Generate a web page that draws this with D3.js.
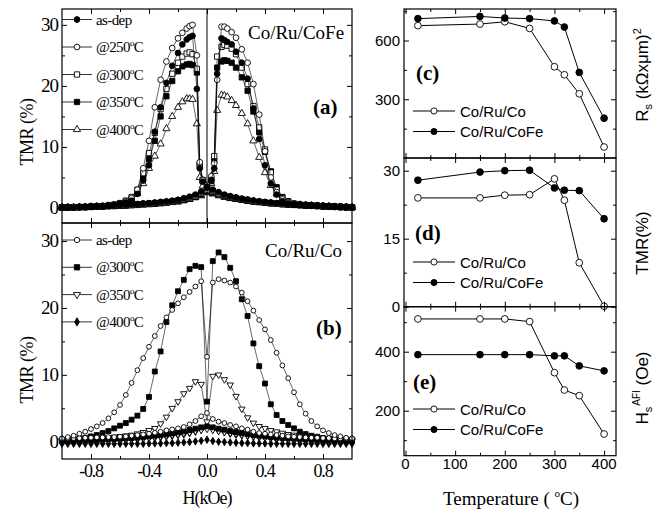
<!DOCTYPE html>
<html>
<head>
<meta charset="utf-8">
<script src="https://cdn.jsdelivr.net/npm/d3@7"></script>
<style>
  body { margin: 0; background: #fff; }
  svg { display: block; }
</style>
</head>
<body>
<svg id="fig" width="663" height="510"></svg>
<script>
// ---- field sweep grids (kOe) ----
const fieldA = [-1.00,-0.96,-0.92,-0.88,-0.84,-0.80,-0.76,-0.72,-0.68,-0.64,
  -0.60,-0.56,-0.52,-0.48,-0.44,-0.40,-0.36,-0.32,-0.28,-0.24,-0.20,
  -0.17,-0.14,-0.12,-0.10,-0.07,-0.05,-0.03,0.00,0.03,0.05,0.07,0.10,0.12,0.14,0.17,
  0.20,0.24,0.28,0.32,0.36,0.40,0.44,0.48,0.52,0.56,0.60,
  0.64,0.68,0.72,0.76,0.80,0.84,0.88,0.92,0.96,1.00];
const fieldB = [-1.00,-0.96,-0.92,-0.88,-0.84,-0.80,-0.76,-0.72,-0.68,-0.64,
  -0.60,-0.56,-0.52,-0.48,-0.44,-0.40,-0.36,-0.32,-0.28,-0.24,
  -0.20,-0.16,-0.12,-0.08,-0.04,0.00,0.04,0.08,0.12,0.16,
  0.20,0.24,0.28,0.32,0.36,0.40,0.44,0.48,0.52,0.56,
  0.60,0.64,0.68,0.72,0.76,0.80,0.84,0.88,0.92,0.96,1.00];

// ---- panel (a) Co/Ru/CoFe, high branch on fieldA ----
const hiA_asdep = [0.1,0.1,0.1,0.15,0.15,0.2,0.25,0.3,0.4,0.5,
  0.7,0.9,1.2,2.3,4.5,7.0,12.5,16.5,20.5,23.3,25.4,
  26.8,27.6,28.0,28.2,19.5,6.5,4.3,3.5,4.6,6.5,22.0,27.8,27.5,27.2,26.8,
  25.6,23.8,21.2,16.3,11.3,7.0,4.0,2.2,1.1,0.7,0.5,
  0.45,0.4,0.35,0.3,0.25,0.2,0.15,0.15,0.1,0.1];
const hiA_250 = [0.1,0.1,0.1,0.15,0.15,0.2,0.25,0.3,0.4,0.55,
  0.8,1.1,1.6,3.0,6.5,11.0,16.5,21.0,24.0,26.2,27.8,
  28.7,29.4,29.8,30.0,25.0,7.5,4.6,3.8,5.2,7.3,21.0,29.7,29.7,29.4,28.8,
  27.9,26.0,23.8,20.3,15.3,9.3,5.0,2.6,1.4,0.9,0.7,
  0.55,0.45,0.4,0.35,0.3,0.25,0.2,0.15,0.15,0.1];
const hiA_300 = [0.1,0.1,0.1,0.15,0.15,0.2,0.25,0.3,0.4,0.55,
  0.8,1.2,1.8,3.0,5.7,9.0,12.3,16.2,19.5,22.0,23.8,
  24.8,25.3,25.5,25.2,22.8,7.2,4.4,3.6,4.8,8.5,24.8,26.4,26.7,26.6,26.1,
  25.2,23.0,20.3,16.7,13.2,9.6,5.8,3.0,1.6,1.0,0.7,
  0.55,0.45,0.4,0.35,0.3,0.25,0.2,0.15,0.15,0.1];
const hiA_350 = [0.1,0.1,0.1,0.15,0.15,0.2,0.25,0.3,0.4,0.5,
  0.7,1.0,1.6,2.6,5.0,8.0,11.0,15.0,18.3,20.8,22.4,
  23.2,23.5,23.6,23.4,22.2,7.0,4.6,3.3,4.4,7.8,23.0,24.0,24.2,24.1,23.8,
  23.0,21.4,19.2,15.8,12.4,9.2,6.0,3.4,1.8,1.1,0.7,
  0.5,0.45,0.4,0.35,0.3,0.25,0.2,0.15,0.1,0.1];
const hiA_400 = [0.1,0.1,0.1,0.15,0.15,0.2,0.25,0.3,0.35,0.45,
  0.6,0.9,1.4,2.4,4.0,6.5,8.5,10.5,13.0,15.0,16.5,
  17.4,17.9,17.9,17.8,13.8,5.0,3.6,3.0,4.0,6.0,16.0,18.5,18.4,18.2,17.6,
  16.8,15.5,13.8,11.0,8.3,5.8,3.7,2.3,1.4,0.9,0.6,
  0.5,0.4,0.35,0.3,0.25,0.2,0.15,0.15,0.1,0.1];

// ---- panel (a) low branch on fieldB ----
const loA_asdep = [0.1,0.1,0.15,0.2,0.2,0.25,0.3,0.3,0.35,0.4,0.5,0.55,0.6,0.65,0.75,0.8,0.9,1.0,1.1,1.2,
  1.35,1.6,1.85,2.2,2.7,3.3,3.0,2.6,2.2,1.95,1.75,1.55,1.4,1.25,1.1,1.0,
  0.9,0.8,0.75,0.7,0.65,0.6,0.55,0.5,0.45,0.4,0.35,0.3,0.25,0.2,0.15];
const loA_250 = [0.1,0.1,0.15,0.15,0.2,0.2,0.25,0.3,0.35,0.4,0.45,0.5,0.55,0.6,0.7,0.75,0.8,0.9,1.0,1.1,
  1.25,1.45,1.7,2.0,2.5,3.0,2.8,2.4,2.1,1.85,1.65,1.45,1.3,1.15,1.05,0.95,
  0.85,0.75,0.7,0.65,0.6,0.55,0.5,0.45,0.4,0.35,0.3,0.25,0.2,0.2,0.15];
const loA_300 = [0.1,0.1,0.1,0.15,0.15,0.2,0.2,0.25,0.3,0.35,0.4,0.45,0.5,0.55,0.65,0.7,0.75,0.85,0.95,1.05,
  1.2,1.4,1.6,1.9,2.4,2.9,2.7,2.3,2.0,1.8,1.6,1.4,1.25,1.1,1.0,0.9,
  0.8,0.7,0.65,0.6,0.55,0.5,0.45,0.4,0.35,0.3,0.25,0.2,0.2,0.15,0.1];
const loA_350 = [0.05,0.1,0.1,0.1,0.15,0.15,0.2,0.25,0.3,0.3,0.35,0.4,0.45,0.5,0.6,0.65,0.7,0.8,0.9,1.0,
  1.1,1.3,1.5,1.8,2.2,2.7,2.5,2.2,1.9,1.7,1.5,1.35,1.2,1.05,0.95,0.85,
  0.75,0.7,0.6,0.55,0.5,0.45,0.4,0.35,0.3,0.25,0.2,0.2,0.15,0.1,0.1];
const loA_400 = [0.05,0.05,0.1,0.1,0.1,0.15,0.15,0.2,0.25,0.3,0.3,0.35,0.4,0.45,0.5,0.55,0.65,0.7,0.8,0.9,
  1.0,1.2,1.4,1.7,2.0,2.5,2.3,2.0,1.75,1.55,1.4,1.25,1.1,1.0,0.9,0.8,
  0.7,0.65,0.55,0.5,0.45,0.4,0.35,0.3,0.3,0.25,0.2,0.15,0.15,0.1,0.1];

// ---- panel (b) Co/Ru/Co, both branches on fieldB ----
const hiB_asdep = [0.5,0.7,0.9,1.2,1.5,1.9,2.3,2.8,3.5,4.4,5.5,7.0,8.8,10.7,12.5,14.2,15.8,17.3,18.6,19.7,
  20.7,21.6,22.4,23.2,24.0,12.7,23.8,24.3,24.1,23.8,23.2,22.3,21.0,19.6,18.2,16.8,
  15.2,13.3,11.4,9.5,7.4,5.6,4.2,3.1,2.3,1.7,1.3,1.0,0.8,0.6,0.5];
const hiB_300 = [0.2,0.3,0.4,0.5,0.6,0.8,1.0,1.3,1.6,2.0,2.4,2.8,3.3,3.9,4.9,6.7,10.5,13.5,17.9,20.4,
  22.5,24.2,25.8,26.3,26.1,6.0,27.0,28.3,27.6,26.0,24.0,21.3,18.8,14.7,11.3,8.7,
  5.6,4.0,3.1,2.5,2.0,1.5,1.15,0.9,0.75,0.55,0.45,0.35,0.3,0.25,0.2];
const hiB_350 = [0.2,0.2,0.25,0.3,0.35,0.4,0.45,0.5,0.6,0.7,0.8,0.9,1.0,1.2,1.4,1.7,2.0,2.7,3.7,5.0,
  6.0,7.2,8.0,9.0,8.6,3.0,9.8,10.0,9.3,8.5,6.8,4.9,3.6,2.8,2.3,2.0,
  1.7,1.5,1.3,1.1,1.0,0.9,0.8,0.7,0.6,0.5,0.45,0.4,0.35,0.3,0.3];
const hiB_400 = [0.0,0.0,0.05,0.05,0.1,0.1,0.15,0.15,0.2,0.25,0.3,0.35,0.4,0.45,0.5,0.55,0.6,0.7,0.8,0.9,
  1.0,1.1,1.3,1.5,1.8,2.2,1.9,1.6,1.4,1.2,1.05,0.95,0.85,0.75,0.65,0.6,
  0.5,0.45,0.4,0.35,0.3,0.25,0.2,0.2,0.15,0.1,0.1,0.05,0.05,0.0,0.0];
const loB_asdep = [0.5,0.5,0.55,0.55,0.6,0.6,0.65,0.65,0.7,0.7,0.75,0.8,0.9,1.0,1.1,1.2,1.35,1.5,1.7,1.85,
  2.0,2.2,2.6,3.1,3.8,4.3,3.4,3.0,2.8,2.5,2.3,2.0,1.8,1.5,1.3,1.2,
  1.1,1.0,0.9,0.8,0.75,0.7,0.65,0.6,0.6,0.55,0.55,0.5,0.5,0.5,0.5];
const loB_300 = [0.1,0.1,0.15,0.15,0.2,0.2,0.25,0.3,0.35,0.4,0.45,0.5,0.55,0.6,0.7,0.8,0.9,1.0,1.1,1.25,
  1.4,1.55,1.75,1.95,2.15,2.3,2.15,1.95,1.8,1.6,1.45,1.3,1.15,1.0,0.9,0.8,
  0.7,0.6,0.55,0.5,0.45,0.4,0.35,0.3,0.25,0.2,0.2,0.15,0.15,0.1,0.1];
const loB_350 = [0.1,0.1,0.1,0.15,0.15,0.2,0.2,0.25,0.25,0.3,0.35,0.4,0.45,0.5,0.55,0.6,0.7,0.8,0.9,1.0,
  1.1,1.25,1.4,1.6,1.75,1.9,1.75,1.6,1.45,1.3,1.2,1.05,0.95,0.85,0.75,0.65,
  0.6,0.5,0.45,0.4,0.35,0.3,0.3,0.25,0.2,0.2,0.15,0.15,0.1,0.1,0.1];
const loB_400 = [-0.3,-0.3,-0.3,-0.3,-0.3,-0.3,-0.3,-0.3,-0.3,-0.3,-0.3,-0.3,-0.3,-0.3,-0.3,-0.25,-0.25,-0.25,-0.2,-0.2,
  -0.15,-0.1,-0.05,0.05,0.15,0.3,0.1,0.0,-0.05,-0.1,-0.15,-0.2,-0.2,-0.25,-0.25,-0.25,
  -0.3,-0.3,-0.3,-0.3,-0.3,-0.3,-0.3,-0.3,-0.3,-0.3,-0.3,-0.3,-0.3,-0.3,-0.3];

// ---- right panels: vs annealing temperature ----
const temps = [25, 150, 200, 250, 300, 320, 350, 400];
const rsCo = [676, 684, 696, 662, 466, 425, 328, 56];
const rsCoFe = [712, 723, 715, 712, 700, 669, 437, 203];
const tmrCo = [24.0, 24.0, 24.6, 24.7, 28.2, 23.5, 9.7, 0.1];
const tmrCoFe = [27.9, 29.7, 30.0, 30.1, 26.2, 25.7, 25.6, 19.4];
const hsCo = [511, 511, 511, 502, 329, 270, 251, 121];
const hsCoFe = [390, 390, 390, 390, 386, 386, 352, 335];

// ---- ticks / labels ----
const tmrTicks = [0, 10, 20, 30];
const tmrMinor = [5, 15, 25];
const fieldTicks = [-0.8, -0.4, 0.0, 0.4, 0.8];
const fieldMinor = [-0.6, -0.2, 0.2, 0.6];
const tempTicks = [0, 100, 200, 300, 400];
const tempMinor = [50, 150, 250, 350];
const rsTicks = [300, 600];
const rsMinor = [150, 450, 750];
const tmrRTicks = [0, 15, 30];
const tmrRMinor = [7.5, 22.5];
const hsTicks = [200, 400];
const hsMinor = [100, 300, 500];
const legendA = ["as-dep", "@250", "@300", "@350", "@400"];
const legendB = ["as-dep", "@300", "@350", "@400"];
const legendR = ["Co/Ru/Co", "Co/Ru/CoFe"];

const SERIF = "'Liberation Serif','Times New Roman',serif";
const SANS = "'Liberation Sans',Arial,sans-serif";

const svg = d3.select("#fig");

const xH = d3.scaleLinear().domain([-1, 1]).range([62, 352]);
const yA = d3.scaleLinear().domain([-2.46, 32.6]).range([223, 9]);
const yB = d3.scaleLinear().domain([-2.58, 32.7]).range([459, 223]);
const xT = d3.scaleLinear().domain([-3, 424]).range([404, 616]);
const yC = d3.scaleLinear().domain([0, 761]).range([158, 9]);
const yD = d3.scaleLinear().domain([0, 32.8]).range([306.7, 158]);
const yE = d3.scaleLinear().domain([47.5, 552.5]).range([455.7, 306.7]);

function symPath(kind, size) {
  const types = {
    circle: d3.symbolCircle, square: d3.symbolSquare,
    triangle: d3.symbolTriangle, down: d3.symbolTriangle, diamond: d3.symbolDiamond
  };
  return d3.symbol().type(types[kind]).size(size)();
}

function marker(g, kind, filled, size, x, y) {
  g.append("path")
    .attr("d", symPath(kind, size))
    .attr("transform", `translate(${x},${y})` + (kind === "down" ? " rotate(180)" : ""))
    .attr("fill", filled ? "#000" : "#fff")
    .attr("stroke", "#000")
    .attr("stroke-width", 0.9);
}

function series(g, xs, ys, xs_scale, ys_scale, kind, filled, size, lw) {
  const line = d3.line()
    .x((d, i) => xs_scale(xs[i]))
    .y(d => ys_scale(d));
  g.append("path")
    .attr("d", line(ys))
    .attr("fill", "none")
    .attr("stroke", "#000")
    .attr("stroke-width", lw);
  ys.forEach((v, i) => marker(g, kind, filled, size, xs_scale(xs[i]), ys_scale(v)));
}

// inward ticks on all four sides of a box
function box(xs, ys, xMaj, xMin, yMaj, yMin) {
  const [x0, x1] = xs.range();
  const [y1, y0] = ys.range();
  const g = svg.append("g");
  const sides = [
    [d3.axisBottom, xs, xMaj, xMin, `translate(0,${y1})`],
    [d3.axisTop, xs, xMaj, xMin, `translate(0,${y0})`],
    [d3.axisLeft, ys, yMaj, yMin, `translate(${x0},0)`],
    [d3.axisRight, ys, yMaj, yMin, `translate(${x1},0)`]
  ];
  sides.forEach(([fn, sc, maj, min, tr]) => {
    [[maj, 5], [min, 3]].forEach(([vals, len]) => {
      g.append("g").attr("transform", tr)
        .call(fn(sc).tickValues(vals).tickSize(-len).tickFormat(""))
        .call(s => s.select(".domain").remove())
        .call(s => s.selectAll("line").attr("stroke-width", 1));
    });
  });
  g.append("rect")
    .attr("x", x0).attr("y", y0)
    .attr("width", x1 - x0).attr("height", y1 - y0)
    .attr("fill", "none").attr("stroke", "#000").attr("stroke-width", 1.2);
}

function text(x, y, str, font, size, anchor, weight) {
  return svg.append("text")
    .attr("x", x).attr("y", y)
    .attr("font-family", font).attr("font-size", size)
    .attr("text-anchor", anchor || "start")
    .attr("font-weight", weight || "normal")
    .attr("fill", "#000")
    .text(str);
}

function degLabel(x, y, name, size) {
  const t = svg.append("text").attr("x", x).attr("y", y)
    .attr("font-family", SERIF).attr("font-size", size)
    .attr("letter-spacing", -0.6).attr("fill", "#000");
  if (name.startsWith("@")) {
    t.append("tspan").text(name);
    t.append("tspan").attr("font-size", 9).attr("dy", -6).text("o");
    t.append("tspan").attr("dy", 6).text("C");
  } else {
    t.text(name);
  }
}

// ================= panel (a) =================
const gA = svg.append("g");
const styleA = [
  ["circle", true, 26, hiA_asdep, loA_asdep],
  ["circle", false, 26, hiA_250, loA_250],
  ["square", false, 28, hiA_300, loA_300],
  ["square", true, 28, hiA_350, loA_350],
  ["triangle", false, 22, hiA_400, loA_400]
];
styleA.slice().reverse().forEach(([k, f, s, hi, lo]) => {
  series(gA, fieldB, lo, xH, yA, k, f, s, 0.6);
  series(gA, fieldA, hi, xH, yA, k, f, s, 0.6);
});
svg.append("line")
  .attr("x1", xH(0)).attr("x2", xH(0))
  .attr("y1", yA.range()[1]).attr("y2", yA.range()[0])
  .attr("stroke", "#000").attr("stroke-width", 1);
box(xH, yA, fieldTicks, fieldMinor, tmrTicks, tmrMinor);

legendA.forEach((name, i) => {
  const y = 19.5 + i * 27.5;
  svg.append("line").attr("x1", 62).attr("x2", 92).attr("y1", y).attr("y2", y)
    .attr("stroke", "#000").attr("stroke-width", 0.8);
  marker(svg, styleA[i][0], styleA[i][1], styleA[i][2], 77, y);
  degLabel(96, y + 5, name, 15);
});

// ================= panel (b) =================
const gB = svg.append("g");
const styleB = [
  ["circle", false, 18, hiB_asdep, loB_asdep],
  ["square", true, 24, hiB_300, loB_300],
  ["down", false, 18, hiB_350, loB_350],
  ["diamond", true, 16, hiB_400, loB_400]
];
styleB.slice().reverse().forEach(([k, f, s, hi, lo]) => {
  series(gB, fieldB, lo, xH, yB, k, f, s, 0.6);
  series(gB, fieldB, hi, xH, yB, k, f, s, 0.6);
});
box(xH, yB, fieldTicks, fieldMinor, tmrTicks, tmrMinor);

legendB.forEach((name, i) => {
  const y = 240 + i * 27.3;
  svg.append("line").attr("x1", 62).attr("x2", 92).attr("y1", y).attr("y2", y)
    .attr("stroke", "#000").attr("stroke-width", 0.8);
  marker(svg, styleB[i][0], styleB[i][1], styleB[i][2] + 4, 77, y);
  degLabel(96, y + 5, name, 15);
});

// left tick labels
tmrTicks.forEach(v => {
  text(58, yA(v) + 6, String(v), SERIF, 19, "end").attr("letter-spacing", -1);
  text(58, yB(v) + 6, String(v), SERIF, 19, "end").attr("letter-spacing", -1);
});
fieldTicks.forEach(v => {
  text(xH(v), 477, v.toFixed(1), SERIF, 18, "middle").attr("letter-spacing", -1.2);
});

// titles and letters
text(248, 39, "Co/Ru/CoFe", SERIF, 19);
text(265, 257, "Co/Ru/Co", SERIF, 19);
text(313, 114, "(a)", SERIF, 21, "start", "bold");
text(316, 335, "(b)", SERIF, 21, "start", "bold");
text(207, 504, "H(kOe)", SERIF, 18, "middle").attr("letter-spacing", -1);
["TMR (%)", "TMR (%)"].forEach((s, i) => {
  svg.append("text")
    .attr("transform", `translate(33,${i ? 370 : 132}) rotate(-90)`)
    .attr("font-family", SERIF).attr("font-size", 18)
    .attr("text-anchor", "middle").attr("letter-spacing", -0.5)
    .text(s);
});

// ================= right panels =================
const right = [
  [yC, rsCo, rsCoFe, rsTicks, rsMinor, 111],
  [yD, tmrCo, tmrCoFe, tmrRTicks, tmrRMinor, 262],
  [yE, hsCo, hsCoFe, hsTicks, hsMinor, 409]
];
right.forEach(([ys, co, cofe, maj, min, ly]) => {
  const g = svg.append("g");
  series(g, temps, co, xT, ys, "circle", false, 36, 1);
  series(g, temps, cofe, xT, ys, "circle", true, 36, 1);
  box(xT, ys, tempTicks, tempMinor, maj, min);
  maj.forEach(v => text(400, ys(v) + 5.5, String(v), SANS, 15, "end"));
  legendR.forEach((name, i) => {
    const y = ly + i * 20.5;
    svg.append("line").attr("x1", 413).attr("x2", 455).attr("y1", y).attr("y2", y)
      .attr("stroke", "#000").attr("stroke-width", 1);
    marker(svg, "circle", i === 1, 30, 434, y);
    text(460, y + 5.5, name, SANS, 15);
  });
});
tempTicks.forEach(v => text(xT(v), 469, String(v), SANS, 15, "middle"));

text(416, 80, "(c)", SERIF, 21, "start", "bold");
text(415, 240, "(d)", SERIF, 21, "start", "bold");
text(413, 389, "(e)", SERIF, 21, "start", "bold");

// right axis titles
const rs = svg.append("text")
  .attr("transform", "translate(648,75) rotate(-90)")
  .attr("font-family", SANS).attr("font-size", 17).attr("text-anchor", "middle");
rs.append("tspan").text("R");
rs.append("tspan").attr("font-size", 11).attr("dy", 4).text("s");
rs.append("tspan").attr("dy", -4).text(" (k\u03A9x\u03BCm)");
rs.append("tspan").attr("font-size", 11).attr("dy", -7).text("2");

svg.append("text")
  .attr("transform", "translate(648,243) rotate(-90)")
  .attr("font-family", SANS).attr("font-size", 17).attr("text-anchor", "middle")
  .text("TMR(%)");

const hs = svg.append("text")
  .attr("transform", "translate(648,388) rotate(-90)")
  .attr("font-family", SANS).attr("font-size", 17).attr("text-anchor", "middle");
hs.append("tspan").text("H");
hs.append("tspan").attr("font-size", 11).attr("dy", 4).text("s");
hs.append("tspan").attr("font-size", 10).attr("dy", -12).attr("dx", 1).text("AFI");
hs.append("tspan").attr("dy", 8).text(" (Oe)");

const tl = svg.append("text")
  .attr("x", 511).attr("y", 505)
  .attr("font-family", SERIF).attr("font-size", 19).attr("text-anchor", "middle");
tl.append("tspan").text("Temperature ( ");
tl.append("tspan").attr("font-size", 11).attr("dy", -8).text("o");
tl.append("tspan").attr("dy", 8).text("C)");
</script>
</body>
</html>
